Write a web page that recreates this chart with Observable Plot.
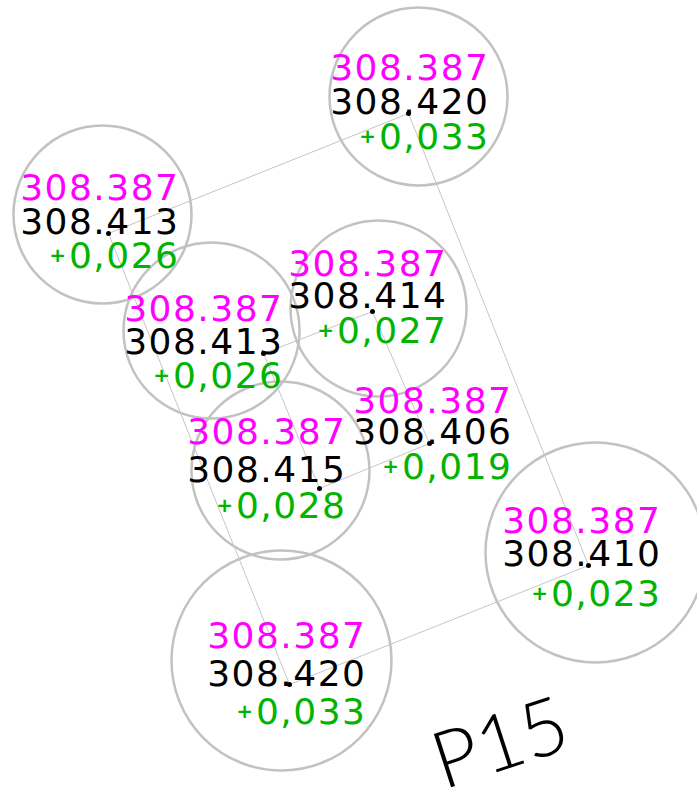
<!DOCTYPE html>
<html><head><meta charset="utf-8">
<script src="https://cdn.jsdelivr.net/npm/d3@7"></script>
<script src="https://cdn.jsdelivr.net/npm/@observablehq/plot@0.6"></script>
<style>
html,body{margin:0;padding:0;background:#fff;}
#chart svg{display:block;background:#fff;}
</style></head><body><div id="chart"></div>
<script>
// survey points (drawing coordinates)
const pointX = [408, 108, 263, 372, 319, 429, 588, 289];
const pointY = [113, 233, 353, 311, 488, 443, 565, 684];
// design height, measured height, difference
const designHeight = [308.387, 308.387, 308.387, 308.387, 308.387, 308.387, 308.387, 308.387];
const measuredHeight = [308.420, 308.413, 308.413, 308.414, 308.415, 308.406, 308.410, 308.420];
const difference = [0.033, 0.026, 0.026, 0.027, 0.028, 0.019, 0.023, 0.033];
// label placement: right edge and baselines of the three rows
const labelRight = [486, 176, 280, 444, 343, 509, 658, 363];
const designRowY = [79, 199, 320, 275, 443, 412, 532, 647];
const measuredRowY = [113, 233, 353, 307, 481, 443, 565, 685];
const diffRowY = [148, 267, 387, 342, 517, 478, 605, 723];
// cloud circles
const circleX = [418, 102, 211, 378, 280, 595, 281];
const circleY = [96, 214, 330, 308, 470, 552, 660];
const circleR = [89, 89, 88, 88, 89, 110, 110];
// connecting polylines (point indices)
const outerLoop = [1, 0, 6, 7, 1];
const innerLoop = [2, 3, 5, 4, 2];
// title
const titleText = ["P15"];
const titleX = [508];
const titleY = [768];

const labels = pointX.map((_, i) => ({
  rx: labelRight[i] + 3,
  px: labelRight[i] - 119,
  y1: designRowY[i], y2: measuredRowY[i], y3: diffRowY[i],
  design: designHeight[i].toFixed(3),
  measured: measuredHeight[i].toFixed(3),
  diff: difference[i].toFixed(3).replace(".", ",")
}));
const circles = circleX.map((x, i) => ({x, y: circleY[i], r: circleR[i]}));
const loops = [
  ...outerLoop.map(i => ({x: pointX[i], y: pointY[i], loop: "outer"})),
  ...innerLoop.map(i => ({x: pointX[i], y: pointY[i], loop: "inner"}))
];
const points = pointX.map((x, i) => ({x, y: pointY[i]}));
const title = titleText.map((t, i) => ({t, x: titleX[i], y: titleY[i]}));

const font = "DejaVu Sans";
const chart = Plot.plot({
  width: 697, height: 787, margin: 0,
  x: {domain: [0, 697], axis: null},
  y: {domain: [0, 787], range: [0, 787], axis: null},
  r: {type: "identity"},
  marks: [
    Plot.dot(circles, {x: "x", y: "y", r: "r", stroke: "#c2c2c2", strokeWidth: 2.5, fill: "none"}),
    Plot.line(loops, {x: "x", y: "y", z: "loop", stroke: "#c6c6c6", strokeWidth: 1}),
    Plot.dot(points, {x: "x", y: "y", r: 2.5, fill: "#000", stroke: "none"}),
    Plot.text(labels, {x: "rx", y: "y1", text: "design", fill: "#ff00ff", fontFamily: font, fontSize: 36, textAnchor: "end", lineAnchor: "bottom"}),
    Plot.text(labels, {x: "rx", y: "y2", text: "measured", fill: "#000", fontFamily: font, fontSize: 36, textAnchor: "end", lineAnchor: "bottom"}),
    Plot.text(labels, {x: "rx", y: "y3", text: "diff", fill: "#00b400", fontFamily: font, fontSize: 36, textAnchor: "end", lineAnchor: "bottom"}),
    Plot.text(labels, {x: "px", y: d => d.y3 - 12, text: () => "+", fill: "#00b400", fontFamily: font, fontWeight: "bold", fontSize: 20, textAnchor: "middle", lineAnchor: "middle"}),
    Plot.text(title, {x: "x", y: "y", text: "t", fill: "#000", fontFamily: "Lato", fontWeight: 300, fontSize: 79, textAnchor: "middle", lineAnchor: "bottom", rotate: -18})
  ]
});
// widen the digit spacing of the height labels (CAD-style lettering)
d3.select(chart).selectAll("text")
  .filter(function () { return /[0-9]/.test(this.textContent) && this.textContent !== "P15"; })
  .style("letter-spacing", "1.5px");
document.getElementById("chart").append(chart);
</script></body></html>
